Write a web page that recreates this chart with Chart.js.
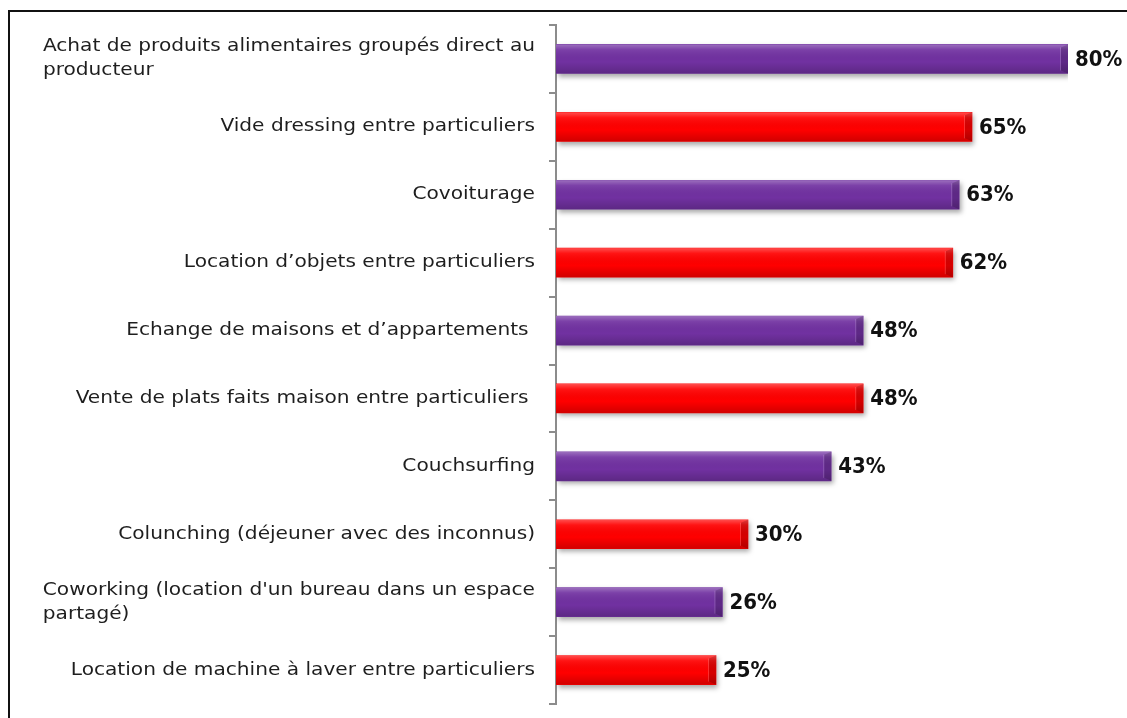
<!DOCTYPE html>
<html>
<head>
<meta charset="utf-8">
<script src="https://cdn.jsdelivr.net/npm/chart.js@4/dist/chart.umd.min.js"></script>
<style>
  html, body { margin: 0; padding: 0; background: #fff; overflow: hidden; }
  #frame { position: absolute; left: 8px; top: 10px; width: 1200px; height: 800px; border: 2px solid #111; }
  #wrap { position: absolute; left: 0; top: 0; width: 1127px; height: 718px; }
</style>
</head>
<body>
<div id="frame"></div>
<div id="wrap"><canvas id="chart"></canvas></div>
<script>
const categories = [
    ['Achat de produits alimentaires groupés direct au', 'producteur'],
    'Vide dressing entre particuliers',
    'Covoiturage',
    'Location d’objets entre particuliers',
    'Echange de maisons et d’appartements ',
    'Vente de plats faits maison entre particuliers ',
    'Couchsurfing',
    'Colunching (déjeuner avec des inconnus)',
    ['Coworking (location d\'un bureau dans un espace', 'partagé)'],
    'Location de machine à laver entre particuliers'
];
const values = [80, 65, 63, 62, 48, 48, 43, 30, 26, 25];
const barColors = ['#7131a1', '#ff0000'];

const LABEL_FONT = '17.5px "DejaVu Sans"';
const LABEL_STRETCH = 1.15;
const VALUE_FONT = 'bold 22px "DejaVu Sans Condensed", "DejaVu Sans"';
const LABEL_RIGHT = 535;

// shadow under the bars, shading on top of them, then the text
const barDecor = {
    id: 'barDecor',
    beforeDatasetsDraw(chart) {
        const c = chart.ctx;
        c.save();
        c.shadowColor = 'rgba(0,0,0,0.35)';
        c.shadowBlur = 5;
        c.shadowOffsetX = 2;
        c.shadowOffsetY = 3;
    },
    afterDatasetsDraw(chart) {
        const c = chart.ctx;
        c.restore();
        const meta = chart.getDatasetMeta(0);
        meta.data.forEach((bar, i) => {
            const top = bar.y - bar.height / 2;
            const h = bar.height;
            const left = bar.base;
            const w = bar.x - bar.base;

            const g = c.createLinearGradient(0, top, 0, top + h);
            g.addColorStop(0, 'rgba(255,255,255,0.30)');
            g.addColorStop(0.18, 'rgba(255,255,255,0.08)');
            g.addColorStop(0.6, 'rgba(0,0,0,0)');
            g.addColorStop(1, 'rgba(0,0,0,0.18)');
            c.fillStyle = g;
            c.fillRect(left, top, w, h);

            // bevelled right end
            c.fillStyle = 'rgba(0,0,0,0.16)';
            c.beginPath();
            c.moveTo(bar.x - 7, top + 3);
            c.lineTo(bar.x, top);
            c.lineTo(bar.x, top + h);
            c.lineTo(bar.x - 7, top + h - 3);
            c.closePath();
            c.fill();
            c.fillStyle = 'rgba(255,255,255,0.18)';
            c.fillRect(bar.x - 8, top + 3, 1, h - 6);

            c.fillStyle = '#111';
            c.font = VALUE_FONT;
            c.textAlign = 'left';
            c.textBaseline = 'middle';
            c.fillText(values[i] + '%', bar.x + 7, bar.y + 1);
        });

        // category labels: one-liners flush right, wrapped ones as a left-aligned block
        const yScale = chart.scales.y;
        c.font = LABEL_FONT;
        c.fillStyle = '#1e1e1e';
        c.textBaseline = 'middle';
        const put = (text, x, y, align) => {
            c.save();
            c.translate(x, y);
            c.scale(LABEL_STRETCH, 1);
            c.textAlign = align;
            c.fillText(text, 0, 0);
            c.restore();
        };
        categories.forEach((label, i) => {
            const y = yScale.getPixelForTick(i);
            if (Array.isArray(label)) {
                const widest = Math.max(...label.map(l => c.measureText(l).width)) * LABEL_STRETCH;
                label.forEach((line, k) => {
                    put(line, LABEL_RIGHT - widest, y + (k - (label.length - 1) / 2) * 24, 'left');
                });
            } else {
                put(label, LABEL_RIGHT, y, 'right');
            }
        });
    }
};

const ctx = document.getElementById('chart').getContext('2d');
new Chart(ctx, {
    type: 'bar',
    data: {
        labels: categories,
        datasets: [{
            data: values,
            backgroundColor: values.map((v, i) => barColors[i % 2]),
            barThickness: 29,
            borderWidth: 0
        }]
    },
    options: {
        indexAxis: 'y',
        responsive: true,
        maintainAspectRatio: false,
        animation: false,
        layout: { padding: { top: 25, right: 59, bottom: 14, left: 0 } },
        plugins: {
            legend: { display: false },
            tooltip: { enabled: false }
        },
        scales: {
            x: {
                display: false,
                min: 0,
                max: 80
            },
            y: {
                ticks: { display: false },
                grid: {
                    offset: true,
                    drawOnChartArea: false,
                    color: '#8c8c8c',
                    tickLength: 7,
                    lineWidth: 2
                },
                border: { color: '#8c8c8c', width: 2 },
                afterFit(scale) { scale.width = 556; }
            }
        }
    },
    plugins: [barDecor]
});
</script>
</body>
</html>
